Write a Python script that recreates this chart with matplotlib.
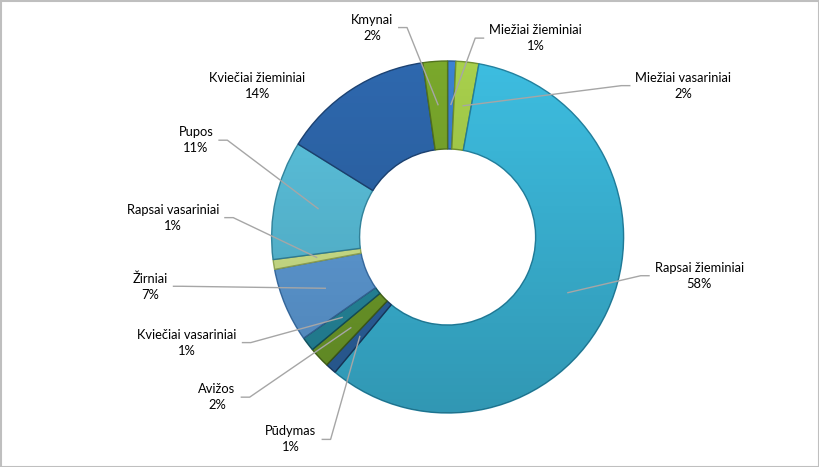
import matplotlib
matplotlib.use("Agg")
import matplotlib.pyplot as plt
import numpy as np
from matplotlib.patches import Rectangle, Wedge

categories = ["Miežiai žieminiai", "Miežiai vasariniai", "Rapsai žieminiai", "Pūdymas",
              "Avižos", "Kviečiai vasariniai", "Žirniai", "Rapsai vasariniai", "Pupos",
              "Kviečiai žieminiai", "Kmynai"]
values = [0.75, 2.1, 58.2, 1.0, 1.9, 1.3, 6.8, 0.9, 10.9, 13.9, 2.25]
pct_labels = ["1%", "2%", "58%", "1%", "2%", "1%", "7%", "1%", "11%", "14%", "2%"]

colors = ["#3c82d2", "#a8d04c", "#3dbde0", "#2f68a8", "#74a42c", "#2890a6",
          "#62a2e0", "#d8ee90", "#5cc4e0", "#2e68ae", "#7aa82c"]
edges = ["#24558f", "#6f9030", "#23819f", "#1b3e66", "#46661a", "#155866",
         "#3a6fa6", "#9bb05a", "#3589a2", "#1d4373", "#52731e"]

# label text centres (layout, in units of the outer radius)
label_pos = [(0.50, 1.13), (1.34, 0.86), (1.43, -0.22), (-0.89, -1.15),
             (-1.31, -0.91), (-1.48, -0.60), (-1.69, -0.28), (-1.56, 0.11),
             (-1.43, 0.55), (-1.08, 0.86), (-0.43, 1.19)]
show_leader = [True, True, True, True, True, True, True, True, True, False, True]

plt.rcParams['font.family'] = ['Lato', 'DejaVu Sans']

W, H = 820, 467
cx, cy, R = 447.6, 237.0, 176.0
fig = plt.figure(figsize=(W / 100, H / 100), dpi=100)
ax = fig.add_axes([0, 0, 1, 1])

wedges, _ = ax.pie(values, startangle=90, counterclock=False, radius=1.0,
                   colors=colors,
                   wedgeprops=dict(width=0.5, linewidth=1.0))
for w, ec in zip(wedges, edges):
    w.set_edgecolor(ec)

ax.set_aspect("auto")
ax.set_xlim(-cx / R, (W - cx) / R)
ax.set_ylim(-(H - cy) / R, cy / R)
ax.axis("off")

# vertical shading (lighter at top, darker at bottom) clipped to the ring
grad = np.zeros((256, 2, 4))
grad[:, :, 3] = np.linspace(0.0, 0.2, 256)[:, None]
ring = Wedge((0, 0), 1.0, 0, 360, width=0.5, transform=ax.transData,
             facecolor="none", edgecolor="none")
ax.add_patch(ring)
im = ax.imshow(grad, extent=(-1, 1, -1, 1), origin="upper", aspect="auto",
               zorder=3, interpolation="bilinear")
im.set_clip_path(ring)
ax.set_xlim(-cx / R, (W - cx) / R)
ax.set_ylim(-(H - cy) / R, cy / R)

texts = []
for (lx, ly), cat, p in zip(label_pos, categories, pct_labels):
    t = ax.text(lx, ly, f"{cat}\n{p}", ha="center", va="center", fontsize=9.3,
                color="#000000", linespacing=1.4)
    texts.append(t)

fig.canvas.draw()
renderer = fig.canvas.get_renderer()
inv = ax.transData.inverted()

cum = np.cumsum([0] + values[:-1])
total = float(sum(values))
for i, v in enumerate(values):
    if not show_leader[i]:
        continue
    mid = cum[i] + v / 2.0
    theta = np.deg2rad(90 - 360.0 * mid / total)
    ax_x, ax_y = 0.75 * np.cos(theta), 0.75 * np.sin(theta)
    bb = texts[i].get_window_extent(renderer)
    (x0, y0), (x1, y1) = inv.transform([[bb.x0, bb.y0], [bb.x1, bb.y1]])
    lx, ly = label_pos[i]
    gap = 5 / R
    seg = 9 / R
    if ax_x > x1:
        sx = x1 + gap
        hx = sx + seg
    else:
        sx = x0 - gap
        hx = sx - seg
    ax.plot([sx, hx, ax_x], [ly, ly, ax_y], color="#a6a6a6", lw=1.0,
            solid_capstyle="butt", zorder=5)

fig.add_artist(Rectangle((0.5 / W, 0.5 / H), 1 - 1.5 / W, 1 - 1.5 / H,
                         transform=fig.transFigure, fill=False,
                         edgecolor="#bfbfbf", linewidth=1.5))

fig.savefig("out.png", dpi=100)
